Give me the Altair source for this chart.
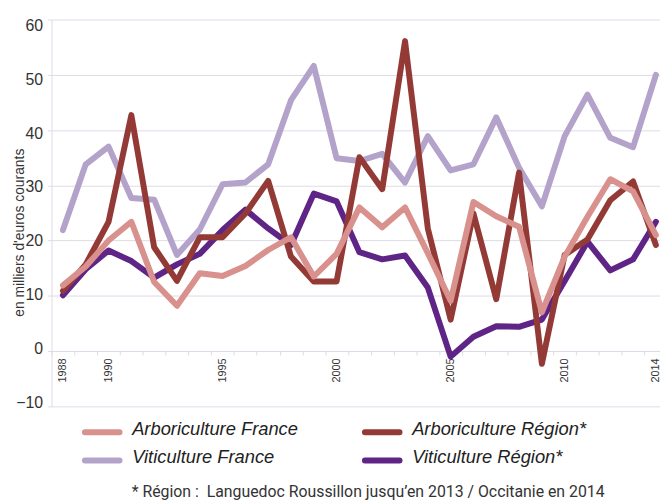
import altair as alt
import pandas as pd

years = list(range(1988, 2015))
arbo_france = [11.9, 15.3, 20.0, 23.4, 12.5, 8.2, 14.1, 13.6, 15.4, 18.3, 20.6, 13.5, 17.6,
               26.0, 22.4, 26.0, 17.7, 9.1, 27.0, 24.4, 22.5, 7.0, 17.1, 24.3, 31.1, 28.9, 21.0]
arbo_region = [10.9, 15.7, 23.4, 42.7, 18.8, 12.7, 20.6, 20.6, 24.9, 30.8, 17.1, 12.6, 12.6,
               35.1, 29.3, 56.1, 22.2, 5.7, 24.9, 9.4, 32.3, -2.3, 17.4, 20.2, 27.3, 30.7, 19.2]
viti_france = [21.9, 33.8, 37.0, 27.7, 27.4, 17.4, 22.0, 30.2, 30.5, 33.8, 45.4, 51.6, 34.9,
               34.4, 35.7, 30.5, 38.9, 32.7, 33.8, 42.3, 33.2, 26.2, 38.9, 46.4, 38.6, 36.9, 50.0]
viti_region = [10.1, 14.8, 18.2, 16.3, 13.3, 15.7, 17.6, 21.9, 25.6, 22.2, 19.2, 28.5, 27.1,
               17.9, 16.6, 17.3, 11.5, -1.0, 2.6, 4.5, 4.4, 5.7, 12.7, 19.8, 14.6, 16.6, 23.4]

# legend order (column-major: col 1 = France, col 2 = Région)
series_names = ["Arboriculture France", "Viticulture France", "Arboriculture Région*", "Viticulture Région*"]
series_colors = ["#d8918d", "#b3a3ca", "#943a36", "#5f2586"]
draw_order = ["Viticulture France", "Viticulture Région*", "Arboriculture Région*", "Arboriculture France"]
label_years = [1988, 1990, 1995, 2000, 2005, 2010, 2014]
tick_years = [1987.5 + i for i in range(27)]
y_ticks = [-10, 0, 10, 20, 30, 40, 50, 60]
y_title = "en milliers d'euros courants"
footnote = ["* Région :\u00a0 Languedoc Roussillon jusqu’en 2013 / Occitanie en 2014"]

values = {
    "Arboriculture France": arbo_france,
    "Arboriculture Région*": arbo_region,
    "Viticulture France": viti_france,
    "Viticulture Région*": viti_region,
}
rows = []
for s in draw_order:
    for y, v in zip(years, values[s]):
        rows.append({"year": y, "value": v, "serie": s})
df = pd.DataFrame(rows)

GRID = "#dedbe7"
FONT = "Liberation Sans, Arial, sans-serif"

xscale = alt.Scale(domain=[1987.5, 2014.18], nice=False, zero=False)
yscale = alt.Scale(domain=[-10, 60], nice=False)

yenc = alt.Y("value:Q", scale=yscale, axis=alt.Axis(
    values=y_ticks, grid=True, gridColor=GRID, domainColor=GRID, tickColor=GRID, tickSize=4,
    labelFont=FONT, labelFontSize=16, labelColor="#333", labelPadding=5,
    labelOffset=alt.ExprRef("-2.7 + 0.145 * datum.value"),
    title=y_title, titleFont=FONT, titleFontSize=14, titleFontWeight="normal", titleColor="#333",
    titleX=-28, titleY=215, titleBaseline="alphabetic", titleAngle=270))

# legend swatch: rounded bar, drawn slightly below the label's centre
capsule = ("M-3.5,0.54 L3.5,0.54 A0.16,0.16 0 0 1 3.5,0.86 "
           "L-3.5,0.86 A0.16,0.16 0 0 1 -3.5,0.54 Z")

lines = alt.Chart(df).mark_line(strokeWidth=6, strokeJoin="round", strokeCap="round").encode(
    x=alt.X("year:Q", scale=xscale, axis=alt.Axis(
        orient="bottom", values=label_years, format="d", labelAngle=270, ticks=False, tickSize=0,
        domain=False, grid=False, offset=-56, labelPadding=7, labelFont=FONT, labelFontSize=11,
        labelColor="#333", title=None)),
    y=yenc,
    color=alt.Color("serie:N", scale=alt.Scale(domain=series_names, range=series_colors),
                    legend=alt.Legend(orient="none", legendX=42, legendY=404, columns=2, title=None,
                                      symbolType=capsule, symbolSize=100, symbolStrokeWidth=4.4,
                                      labelFont=FONT, labelFontSize=18.5, labelFontStyle="italic",
                                      labelColor="#222", labelOffset=21, labelLimit=400,
                                      columnPadding=57, rowPadding=6)),
    detail="serie:N",
)

ticks = alt.Chart(df).mark_point(opacity=0).encode(
    x=alt.X("year:Q", scale=xscale, axis=alt.Axis(
        orient="bottom", values=tick_years, labels=False, ticks=True, tickSize=4, tickColor=GRID,
        domain=True, domainColor=GRID, grid=False, offset=-56, title=None)),
    y=yenc,
)

note = alt.Chart(pd.DataFrame({"t": footnote})).mark_text(
    align="left", baseline="alphabetic", font="Roboto", fontSize=16, color="#333"
).encode(text="t:N", x=alt.value(81), y=alt.value(482.5))

chart = alt.layer(ticks, lines, note).resolve_axis(x="independent").properties(
    width=615, height=391,
    autosize=alt.AutoSizeParams(type="none"),
    padding={"left": 44, "top": 9, "right": 0, "bottom": 94},
).configure_view(stroke=None)

chart.save("out.html", embed_options={"renderer": "svg", "actions": False})
